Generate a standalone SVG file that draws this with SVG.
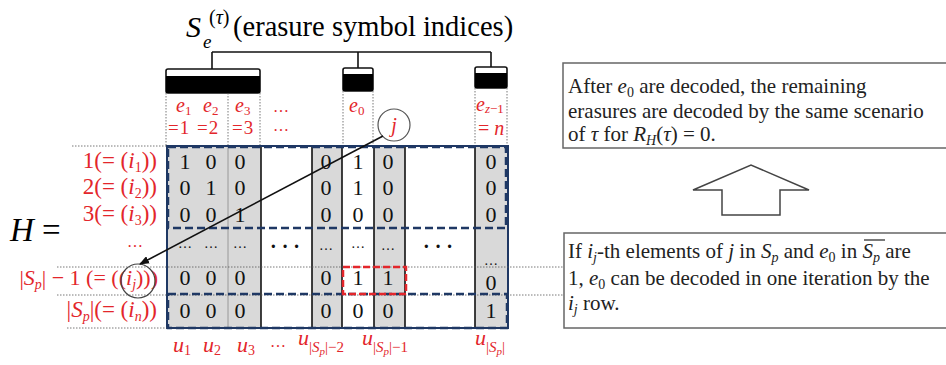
<svg xmlns="http://www.w3.org/2000/svg" width="946" height="365" viewBox="0 0 946 365">
<style>
.s{font-family:"Liberation Serif","Times New Roman",serif}
.r{fill:#e3262b}
.it{font-style:italic}
.n{font-family:"Liberation Serif",serif;font-size:22px;fill:#111;text-anchor:middle}
.g{fill:#d9d9d9}
.vl{stroke:#111;stroke-width:1.6}
.guide{stroke:#555;stroke-width:0.8;stroke-dasharray:1.5,1.5;fill:none}
.navy{stroke:#1f3864;stroke-width:2.5;stroke-dasharray:8,4;fill:none}
.box{fill:#fff;stroke:#666;stroke-width:1.5}
.bt{font-family:"Liberation Serif",serif;font-size:21px;fill:#222}
</style>
<defs>
<marker id="ah" markerWidth="10" markerHeight="8" refX="9" refY="4" orient="auto" markerUnits="userSpaceOnUse">
<path d="M0,0 L10,4 L0,8 z" fill="#111"/>
</marker>
</defs>
<rect width="946" height="365" fill="#fff"/>

<!-- title -->
<g id="title">
<text class="s it" x="186" y="37" font-size="30">S</text>
<text class="s" x="209" y="24" font-size="20">(<tspan class="it">τ</tspan>)</text>
<text class="s it" x="203" y="48" font-size="19">e</text>
<text class="s" x="233" y="36" font-size="28.5">(erasure symbol indices)</text>
</g>

<!-- brackets -->
<g id="brackets" stroke="#111" stroke-width="1.6" fill="none">
<line x1="212" y1="52" x2="491" y2="52"/>
<line x1="212" y1="52" x2="212" y2="69"/>
<line x1="358" y1="52" x2="358" y2="68"/>
<line x1="491" y1="52" x2="491" y2="67"/>
<rect x="166" y="69" width="94" height="24" rx="2" fill="#fff"/>
<rect x="166" y="76" width="94" height="17" fill="#000" stroke="none"/>
<rect x="343" y="68" width="30" height="23" rx="2" fill="#fff"/>
<rect x="343" y="74" width="30" height="17" fill="#000" stroke="none"/>
<rect x="475" y="67" width="32" height="21" rx="2" fill="#fff"/>
<rect x="475" y="73" width="32" height="15" fill="#000" stroke="none"/>
</g>

<!-- header verticals -->
<g id="header-guides" class="guide">
<line x1="166" y1="93" x2="166" y2="146"/>
<line x1="228" y1="93" x2="228" y2="146"/>
<line x1="260" y1="93" x2="260" y2="146"/>
<line x1="343" y1="91" x2="343" y2="146"/>
<line x1="373" y1="91" x2="373" y2="146"/>
<line x1="475" y1="88" x2="475" y2="146"/>
<line x1="507" y1="88" x2="507" y2="146"/>
</g>

<!-- column labels -->
<g id="col-labels" class="s r">
<text x="176" y="112" font-size="20"><tspan class="it">e</tspan><tspan font-size="13" dy="3">1</tspan></text>
<text x="203" y="112" font-size="20"><tspan class="it">e</tspan><tspan font-size="13" dy="3">2</tspan></text>
<text x="235" y="112" font-size="20"><tspan class="it">e</tspan><tspan font-size="13" dy="3">3</tspan></text>
<text x="168" y="134" font-size="19" letter-spacing="1">=1</text>
<text x="197" y="134" font-size="19" letter-spacing="1">=2</text>
<text x="232" y="134" font-size="19" letter-spacing="1">=3</text>
<text x="273" y="112" font-size="16">…</text>
<text x="273" y="131" font-size="16">…</text>
<text x="349" y="112" font-size="20"><tspan class="it">e</tspan><tspan font-size="13" dy="3">0</tspan></text>
<text x="476" y="111" font-size="20"><tspan class="it">e</tspan><tspan class="it" font-size="13" dy="2">z</tspan><tspan font-size="13">−1</tspan></text>
<text x="478" y="135" font-size="20">= <tspan class="it">n</tspan></text>
</g>

<!-- matrix background -->
<g id="matrix">
<rect x="167" y="146" width="341" height="182" fill="#fff"/>
<rect class="g" x="167" y="146" width="94" height="182"/>
<rect class="g" x="312" y="146" width="30" height="182"/>
<rect class="g" x="374" y="146" width="31" height="182"/>
<rect class="g" x="475" y="146" width="32" height="182"/>
<line x1="228" y1="146" x2="228" y2="328" stroke="#888" stroke-width="0.8"/>
<line class="vl" x1="261" y1="146" x2="261" y2="328"/>
<line class="vl" x1="312" y1="146" x2="312" y2="328"/>
<line class="vl" x1="342" y1="146" x2="342" y2="328"/>
<line class="vl" x1="374" y1="146" x2="374" y2="328"/>
<line class="vl" x1="405" y1="146" x2="405" y2="328"/>
<line class="vl" x1="475" y1="146" x2="475" y2="328"/>
<rect x="167" y="146" width="341" height="182" fill="none" stroke="#1f3864" stroke-width="2"/>
</g>

<!-- guides -->
<g id="row-guides" class="guide">
<line x1="72" y1="146" x2="167" y2="146"/>
<line x1="57" y1="267" x2="564" y2="267"/>
<line x1="57" y1="295" x2="564" y2="295"/>
<line x1="67" y1="328" x2="167" y2="328"/>
</g>

<!-- dashed boxes -->
<g id="dashed-boxes">
<rect class="navy" x="168" y="147" width="338" height="81"/>
<rect class="navy" x="168" y="294" width="339" height="34"/>
<rect x="343" y="267" width="63" height="27" fill="none" stroke="#e3262b" stroke-width="2.5" stroke-dasharray="7,3"/>
</g>

<!-- values -->
<g id="values" class="n">
<text x="185" y="169">1</text><text x="211" y="169">0</text><text x="240" y="169">0</text>
<text x="326" y="169">0</text><text x="358" y="169">1</text><text x="388" y="169">0</text><text x="491" y="169">0</text>
<text x="185" y="195">0</text><text x="211" y="195">1</text><text x="240" y="195">0</text>
<text x="326" y="195">0</text><text x="358" y="195">1</text><text x="388" y="195">0</text><text x="491" y="195">0</text>
<text x="185" y="222">0</text><text x="211" y="222">0</text><text x="240" y="222">1</text>
<text x="326" y="222">0</text><text x="358" y="222">0</text><text x="388" y="222">0</text><text x="491" y="222">0</text>
<text x="185" y="248" font-size="14">…</text><text x="211" y="248" font-size="14">…</text><text x="240" y="248" font-size="14">…</text>
<text x="285" y="253" font-size="20" font-weight="bold">· · ·</text>
<text x="326" y="250" font-size="14">…</text><text x="358" y="248" font-size="14">…</text><text x="388" y="250" font-size="14">…</text>
<text x="438" y="253" font-size="20" font-weight="bold">· · ·</text>
<text x="491" y="265" font-size="14">…</text>
<text x="185" y="285">0</text><text x="211" y="285">0</text><text x="240" y="285">0</text>
<text x="326" y="285">0</text><text x="358" y="285">1</text><text x="388" y="285">1</text><text x="491" y="290">0</text>
<text x="185" y="318">0</text><text x="211" y="318">0</text><text x="240" y="318">0</text>
<text x="326" y="318">0</text><text x="358" y="318">0</text><text x="388" y="318">0</text><text x="491" y="318">1</text>
</g>

<!-- H = -->
<g id="H">
<text class="s" x="10" y="241" font-size="33"><tspan class="it">H</tspan> =</text>
</g>

<!-- row labels -->
<g id="row-labels" class="s r" font-size="23" text-anchor="end">
<text x="157" y="168">1(= (<tspan class="it">i</tspan><tspan font-size="14" dy="4">1</tspan><tspan dy="-4">))</tspan></text>
<text x="157" y="194">2(= (<tspan class="it">i</tspan><tspan font-size="14" dy="4">2</tspan><tspan dy="-4">))</tspan></text>
<text x="157" y="221">3(= (<tspan class="it">i</tspan><tspan font-size="14" dy="4">3</tspan><tspan dy="-4">))</tspan></text>
<text x="143" y="247" font-size="16">…</text>
<text x="158" y="285" font-size="22">|<tspan class="it">S</tspan><tspan class="it" font-size="14" dy="4">p</tspan><tspan dy="-4">| − 1 (= ((</tspan><tspan class="it">i</tspan><tspan class="it" font-size="14" dy="4">j</tspan><tspan dy="-4">)))</tspan></text>
<text x="157" y="317">|<tspan class="it">S</tspan><tspan class="it" font-size="14" dy="4">p</tspan><tspan dy="-4">|(= (</tspan><tspan class="it">i</tspan><tspan class="it" font-size="14" dy="4">n</tspan><tspan dy="-4">))</tspan></text>
</g>

<!-- u labels -->
<g id="u-labels" class="s r" font-size="22">
<text x="173" y="352"><tspan class="it">u</tspan><tspan font-size="14" dy="3">1</tspan></text>
<text x="203" y="352"><tspan class="it">u</tspan><tspan font-size="14" dy="3">2</tspan></text>
<text x="237" y="352"><tspan class="it">u</tspan><tspan font-size="14" dy="3">3</tspan></text>
<text x="270" y="347" font-size="16">…</text>
<text x="298" y="345"><tspan class="it">u</tspan><tspan font-size="15" dy="7">|</tspan><tspan class="it" font-size="15">S</tspan><tspan class="it" font-size="11" dy="3">p</tspan><tspan font-size="15" dy="-3">|−2</tspan></text>
<text x="362" y="345"><tspan class="it">u</tspan><tspan font-size="15" dy="7">|</tspan><tspan class="it" font-size="15">S</tspan><tspan class="it" font-size="11" dy="3">p</tspan><tspan font-size="15" dy="-3">|−1</tspan></text>
<text x="475" y="345"><tspan class="it">u</tspan><tspan font-size="15" dy="7">|</tspan><tspan class="it" font-size="15">S</tspan><tspan class="it" font-size="11" dy="3">p</tspan><tspan font-size="15" dy="-3">|</tspan></text>
</g>

<!-- j circle -->
<g id="node-j">
<circle cx="394" cy="125" r="16" fill="#fff" stroke="#555" stroke-width="1.2"/>
<text class="s it r" x="394" y="132" font-size="20" text-anchor="middle">j</text>
</g>

<!-- ij circle -->
<g id="node-ij">
<circle cx="138" cy="281" r="17" fill="none" stroke="#444" stroke-width="1.2"/>
</g>

<!-- connectors -->
<g id="connectors">
<line x1="383" y1="136" x2="140" y2="264" stroke="#111" stroke-width="1.6" marker-end="url(#ah)"/>
</g>

<!-- right boxes -->
<g id="note-top">
<rect class="box" x="563" y="63" width="400" height="85"/>
<text class="bt" x="568" y="93">After <tspan font-style="italic">e</tspan><tspan font-size="14" dy="4">0</tspan><tspan dy="-4"> are decoded, the remaining</tspan></text>
<text class="bt" x="568" y="118">erasures are decoded by the same scenario</text>
<text class="bt" x="568" y="141">of <tspan font-style="italic">τ</tspan> for <tspan font-style="italic">R</tspan><tspan font-style="italic" font-size="14" dy="4">H</tspan><tspan dy="-4">(</tspan><tspan font-style="italic">τ</tspan>) = 0.</text>
</g>

<g id="up-arrow">
<polygon points="693,190 751,165 809,190 780,190 780,215 722,215 722,190" fill="#fff" stroke="#444" stroke-width="1.5"/>
</g>

<g id="note-bottom">
<rect class="box" x="564" y="233" width="400" height="95"/>
<text class="bt" x="568" y="258">If <tspan font-style="italic">i</tspan><tspan font-style="italic" font-size="14" dy="4">j</tspan><tspan dy="-4">-th elements of </tspan><tspan font-style="italic">j</tspan> in <tspan font-style="italic">S</tspan><tspan font-style="italic" font-size="14" dy="4">p</tspan><tspan dy="-4"> and </tspan><tspan font-style="italic">e</tspan><tspan font-size="14" dy="4">0</tspan><tspan dy="-4"> in </tspan><tspan font-style="italic">S</tspan><tspan font-style="italic" font-size="14" dy="4">p</tspan><tspan dy="-4"> are</tspan></text>
<text class="bt" x="568" y="285">1, <tspan font-style="italic">e</tspan><tspan font-size="14" dy="4">0</tspan><tspan dy="-4"> can be decoded in one iteration by the</tspan></text>
<text class="bt" x="568" y="310"><tspan font-style="italic">i</tspan><tspan font-style="italic" font-size="14" dy="4">j</tspan><tspan dy="-4"> row.</tspan></text>
<line x1="864" y1="240" x2="885" y2="240" stroke="#222" stroke-width="1.2"/>
</g>
</svg>
